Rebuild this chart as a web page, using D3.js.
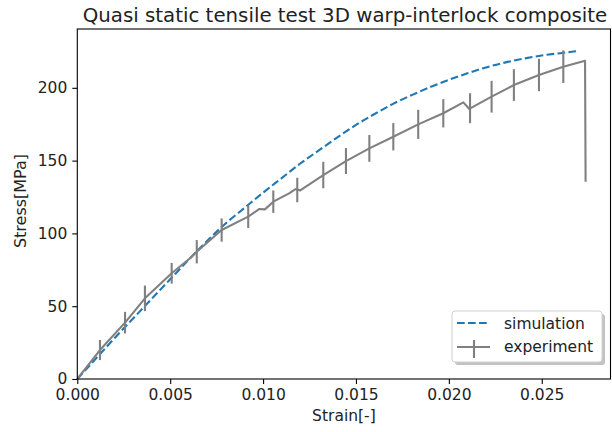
<!DOCTYPE html>
<html>
<head>
<meta charset="utf-8">
<script src="https://cdn.jsdelivr.net/npm/d3@7"></script>
<style>
  body { margin: 0; background: #fff; }
  svg text { font-family: "DejaVu Sans", sans-serif; fill: #222; }
</style>
</head>
<body>
<svg id="chart" width="612" height="432"></svg>
<script>
// simulation curve (strain, stress in MPa)
var simStrain = [0, 0.001, 0.002, 0.003, 0.004, 0.005, 0.006, 0.007, 0.008, 0.009,
                 0.010, 0.011, 0.012, 0.013, 0.014, 0.015, 0.016, 0.017, 0.018, 0.019,
                 0.020, 0.021, 0.022, 0.023, 0.024, 0.025, 0.026, 0.0269];
var simStress = [0, 14, 28, 41.5, 55, 68.5, 82, 95, 107, 117.5,
                 128, 138, 148, 157, 166, 174.5, 182, 189, 195, 200.5,
                 205.5, 210, 214, 217.3, 220, 222.2, 223.8, 225.2];

// experiment curve
var expStrain = [0, 0.00122, 0.00257, 0.00364, 0.00508, 0.00607, 0.00643, 0.00777, 0.0092,
                 0.0098, 0.0101, 0.01055, 0.0114, 0.01175, 0.0120, 0.01324, 0.01446, 0.01572,
                 0.01701, 0.01835, 0.0197, 0.02078, 0.0211, 0.0223, 0.0235, 0.02485, 0.02616,
                 0.02733, 0.02736];
var expStress = [0, 19.9, 38.7, 55.4, 72.6, 82.9, 87.4, 102.3, 111.5,
                 116.8, 116.5, 121.8, 127.5, 130.5, 129.5, 140.1, 149.7, 158.4,
                 166.4, 174.9, 182.5, 190, 185.5, 193.9, 201.9, 208.8, 214.5,
                 218.6, 135.5];

// error bars on the experiment
var errStrain = [0.00122, 0.00257, 0.00364, 0.00508, 0.00643, 0.00777, 0.0092, 0.01055, 0.01184, 0.01324,
                 0.01446, 0.01572, 0.01701, 0.01835, 0.0197, 0.02114, 0.0223, 0.0235, 0.02485, 0.02616];
var errStress = [19.9, 38.7, 55.4, 72.6, 87.4, 102.3, 111.5, 121.8, 129.8, 140.1,
                 149.7, 158.4, 166.4, 174.9, 182.5, 186.0, 193.9, 201.9, 208.8, 214.5];
var errSize   = [6.9, 7.4, 8.8, 7.1, 8.0, 8.0, 7.8, 7.7, 8.4, 9.1,
                 8.9, 9.2, 9.4, 10.0, 9.7, 10.3, 10.9, 10.9, 11.1, 11.2];

var xTicks = [0, 0.005, 0.010, 0.015, 0.020, 0.025];
var yTicks = [0, 50, 100, 150, 200];

var svg = d3.select('#chart'),
    plotLeft = 77.3, plotRight = 610.5, plotTop = 29, plotBottom = 379,
    grey = '#808080', blue = '#1f77b4';

var x = d3.scaleLinear().domain([0, 0.02870]).range([plotLeft, plotRight]);
var y = d3.scaleLinear().domain([0, 240.4]).range([plotBottom, plotTop]);

// axes
var xAxis = svg.append('g')
    .attr('transform', 'translate(0,' + plotBottom + ')')
    .call(d3.axisBottom(x).tickValues(xTicks).tickFormat(d3.format('.3f')).tickSize(5).tickPadding(5));
var yAxis = svg.append('g')
    .attr('transform', 'translate(' + plotLeft + ',0)')
    .call(d3.axisLeft(y).tickValues(yTicks).tickSize(5).tickPadding(5));

[xAxis, yAxis].forEach(function(a) {
  a.select('.domain').remove();
  a.selectAll('line').attr('stroke', '#000').attr('stroke-width', 1.1);
  a.selectAll('text').style('font-size', '15.5px').attr('fill', '#222');
});

// plot lines
var line = d3.line().x(function(d) { return x(d[0]); }).y(function(d) { return y(d[1]); });

svg.append('path')
    .datum(simStrain.map(function(s, i) { return [s, simStress[i]]; }))
    .attr('d', d3.line().curve(d3.curveMonotoneX).x(function(d) { return x(d[0]); }).y(function(d) { return y(d[1]); }))
    .attr('fill', 'none')
    .attr('stroke', blue)
    .attr('stroke-width', 2.1)
    .attr('stroke-dasharray', '7.7,3.3');

svg.append('path')
    .datum(expStrain.map(function(s, i) { return [s, expStress[i]]; }))
    .attr('d', line)
    .attr('fill', 'none')
    .attr('stroke', grey)
    .attr('stroke-width', 2.1)
    .attr('stroke-linejoin', 'round');

svg.append('g').selectAll('line')
    .data(errStrain)
    .enter().append('line')
    .attr('x1', function(d) { return x(d); })
    .attr('x2', function(d) { return x(d); })
    .attr('y1', function(d, i) { return y(errStress[i] - errSize[i]); })
    .attr('y2', function(d, i) { return y(errStress[i] + errSize[i]); })
    .attr('stroke', grey)
    .attr('stroke-width', 2.1);

// frame
svg.append('rect')
    .attr('x', plotLeft).attr('y', plotTop)
    .attr('width', plotRight - plotLeft).attr('height', plotBottom - plotTop)
    .attr('fill', 'none').attr('stroke', '#000').attr('stroke-width', 1.1);

// labels
svg.append('text')
    .attr('x', 345).attr('y', 21.5)
    .attr('text-anchor', 'middle')
    .style('font-size', '19.8px')
    .text('Quasi static tensile test 3D warp-interlock composite');

svg.append('text')
    .attr('x', (plotLeft + plotRight) / 2).attr('y', 421)
    .attr('text-anchor', 'middle')
    .style('font-size', '15.5px')
    .text('Strain[-]');

svg.append('text')
    .attr('transform', 'translate(26,201) rotate(-90)')
    .attr('text-anchor', 'middle')
    .style('font-size', '16px')
    .text('Stress[MPa]');

// legend
var lg = svg.append('g').attr('transform', 'translate(452,311)');
lg.append('rect')
    .attr('x', 3).attr('y', 3).attr('width', 150).attr('height', 51).attr('rx', 3)
    .attr('fill', '#999').attr('opacity', 0.6);
lg.append('rect')
    .attr('width', 150).attr('height', 51).attr('rx', 3)
    .attr('fill', '#fff').attr('stroke', '#d0d0d0').attr('stroke-width', 1);
lg.append('line')
    .attr('x1', 5).attr('x2', 38).attr('y1', 12).attr('y2', 12)
    .attr('stroke', blue).attr('stroke-width', 2.1).attr('stroke-dasharray', '7.7,3.3');
lg.append('line')
    .attr('x1', 5).attr('x2', 38).attr('y1', 36).attr('y2', 36)
    .attr('stroke', grey).attr('stroke-width', 2.1);
lg.append('line')
    .attr('x1', 22).attr('x2', 22).attr('y1', 29).attr('y2', 47)
    .attr('stroke', grey).attr('stroke-width', 2.1);
lg.append('text').attr('x', 52).attr('y', 18).style('font-size', '15.5px').text('simulation');
lg.append('text').attr('x', 52).attr('y', 41).style('font-size', '15.5px').text('experiment');
</script>
</body>
</html>
